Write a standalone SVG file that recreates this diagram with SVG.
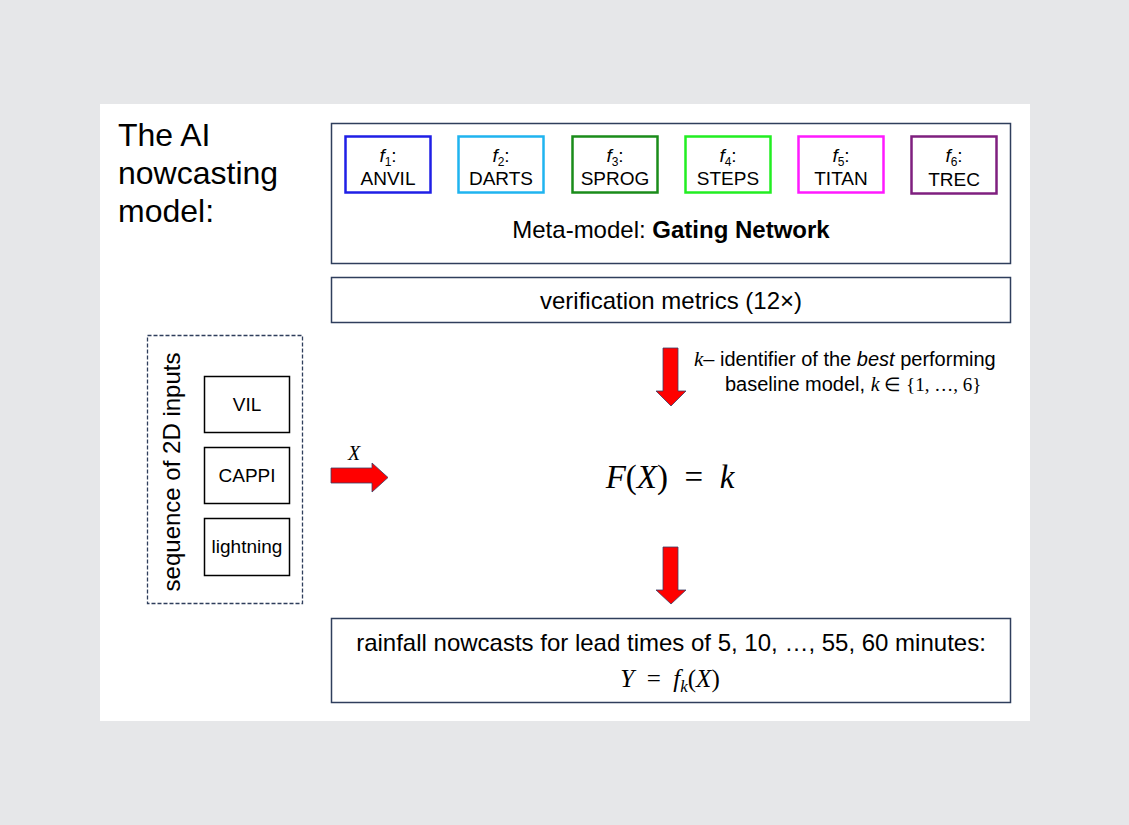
<svg xmlns="http://www.w3.org/2000/svg" width="1129" height="825" viewBox="0 0 1129 825">
<defs>
<style>
.sans{font-family:"Liberation Sans",Arial,sans-serif;fill:#000}
.math{font-family:"Liberation Serif","Times New Roman",serif;font-style:italic;fill:#000}
.frame{fill:#fff;stroke:#2f3e5c;stroke-width:1.5}
.model{fill:#fff;stroke-width:2.5}
.inp{fill:#fff;stroke:#000;stroke-width:1.5}
.arrow{fill:#ff0000;stroke:#3a3f66;stroke-width:0.8}
</style>
</defs>
<rect x="0" y="0" width="1129" height="825" fill="#e6e7e9"/>
<rect x="100" y="104" width="930" height="617" fill="#fff"/>
<g id="title">
<text class="sans" x="118" y="146" font-size="32">The AI</text>
<text class="sans" x="118" y="184" font-size="32">nowcasting</text>
<text class="sans" x="118" y="222" font-size="32">model:</text>
</g>
<g id="meta-model">
<rect class="frame" x="331.5" y="123.5" width="679" height="140"/>
<text class="sans" x="671" y="238" font-size="24" text-anchor="middle">Meta-model: <tspan font-weight="bold">Gating Network</tspan></text>
</g>
<g id="f1"><rect class="model" x="345.5" y="136.5" width="85" height="56" stroke="#1f1fe6"/>
<text class="sans" x="388" y="162" font-size="19" text-anchor="middle"><tspan font-style="italic">f</tspan><tspan font-size="12" dy="4">1</tspan><tspan dy="-4">:</tspan></text>
<text class="sans" x="388" y="185" font-size="19" text-anchor="middle">ANVIL</text></g>
<g id="f2"><rect class="model" x="458.5" y="136.5" width="85" height="56" stroke="#1fb4f0"/>
<text class="sans" x="501" y="162" font-size="19" text-anchor="middle"><tspan font-style="italic">f</tspan><tspan font-size="12" dy="4">2</tspan><tspan dy="-4">:</tspan></text>
<text class="sans" x="501" y="185" font-size="19" text-anchor="middle">DARTS</text></g>
<g id="f3"><rect class="model" x="572.5" y="136.5" width="85" height="56" stroke="#1a8c1a"/>
<text class="sans" x="615" y="162" font-size="19" text-anchor="middle"><tspan font-style="italic">f</tspan><tspan font-size="12" dy="4">3</tspan><tspan dy="-4">:</tspan></text>
<text class="sans" x="615" y="185" font-size="19" text-anchor="middle">SPROG</text></g>
<g id="f4"><rect class="model" x="685.5" y="136.5" width="85" height="56" stroke="#22ee22"/>
<text class="sans" x="728" y="162" font-size="19" text-anchor="middle"><tspan font-style="italic">f</tspan><tspan font-size="12" dy="4">4</tspan><tspan dy="-4">:</tspan></text>
<text class="sans" x="728" y="185" font-size="19" text-anchor="middle">STEPS</text></g>
<g id="f5"><rect class="model" x="798.5" y="136.5" width="85" height="56" stroke="#ff1aff"/>
<text class="sans" x="841" y="162" font-size="19" text-anchor="middle"><tspan font-style="italic">f</tspan><tspan font-size="12" dy="4">5</tspan><tspan dy="-4">:</tspan></text>
<text class="sans" x="841" y="185" font-size="19" text-anchor="middle">TITAN</text></g>
<g id="f6"><rect class="model" x="911.5" y="136.5" width="85" height="57" stroke="#7f1f7f"/>
<text class="sans" x="954" y="162" font-size="19" text-anchor="middle"><tspan font-style="italic">f</tspan><tspan font-size="12" dy="4">6</tspan><tspan dy="-4">:</tspan></text>
<text class="sans" x="954" y="186" font-size="19" text-anchor="middle">TREC</text></g>
<g id="verification">
<rect class="frame" x="331.5" y="277.5" width="679" height="45"/>
<text class="sans" x="671" y="309" font-size="24" text-anchor="middle">verification metrics (12×)</text>
</g>
<g id="inputs">
<rect x="147.5" y="335.5" width="155" height="268" fill="#fff" stroke="#2f3e5c" stroke-width="1.3" stroke-dasharray="4 2"/>
<text class="sans" transform="translate(180 472) rotate(-90)" font-size="24" text-anchor="middle">sequence of 2D inputs</text>
<rect class="inp" x="204.5" y="376.5" width="85" height="56"/>
<text class="sans" x="247" y="411" font-size="19" text-anchor="middle">VIL</text>
<rect class="inp" x="204.5" y="447.5" width="85" height="56"/>
<text class="sans" x="247" y="482" font-size="19" text-anchor="middle">CAPPI</text>
<rect class="inp" x="204.5" y="518.5" width="85" height="57"/>
<text class="sans" x="247" y="553" font-size="19" text-anchor="middle">lightning</text>
</g>
<g id="gating-function">
<text class="math" x="670" y="488" font-size="33" text-anchor="middle" style="white-space:pre">F<tspan font-style="normal">(</tspan>X<tspan font-style="normal">)  =  </tspan>k</text>
</g>
<g id="output">
<rect class="frame" x="331.5" y="618.5" width="679" height="84"/>
<text class="sans" x="671" y="651" font-size="24" text-anchor="middle">rainfall nowcasts for lead times of 5, 10, …, 55, 60 minutes:</text>
<text class="math" x="670" y="687" font-size="25" text-anchor="middle" style="white-space:pre">Y<tspan font-style="normal">  =  </tspan>f<tspan font-size="17" dy="5">k</tspan><tspan font-style="normal" dy="-5">(</tspan>X<tspan font-style="normal">)</tspan></text>
</g>
<g id="connectors">
<path class="arrow" d="M331 468 H372 V463 L388 477.5 L372 492 V483 H331 Z"/>
<text class="math" x="354" y="460" font-size="20" text-anchor="middle">X</text>
<path class="arrow" d="M663 348 H678 V391 H686 L671 406 L656 391 H663 Z"/>
<path class="arrow" d="M663 547 H678 V590 H686 L671 604 L656 590 H663 Z"/>
<text class="sans" x="694" y="366" font-size="20"><tspan class="math" font-size="21">k</tspan>– identifier of the <tspan font-style="italic">best</tspan> performing</text>
<text class="sans" x="725" y="391" font-size="20">baseline model, <tspan class="math" font-size="20">k</tspan><tspan font-family="Liberation Serif,serif" font-size="19"> ∈ {1, …, 6}</tspan></text>
</g>
</svg>
